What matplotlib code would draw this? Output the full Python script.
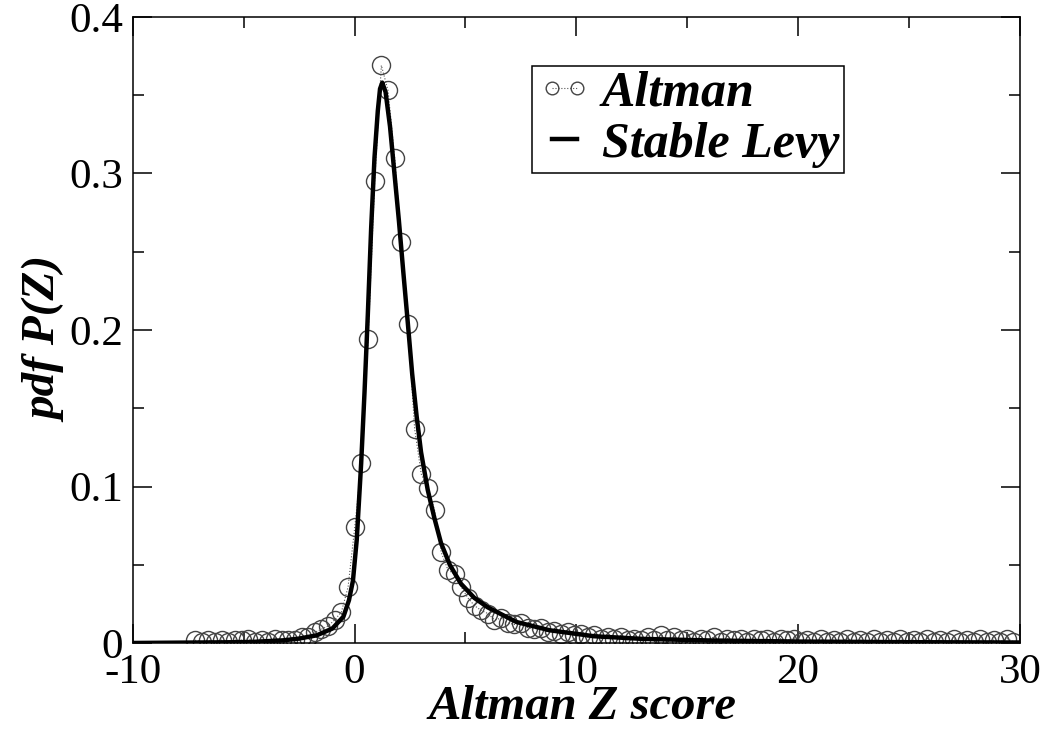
import matplotlib
matplotlib.use("Agg")
import matplotlib.pyplot as plt
import numpy as np

plt.rcParams.update({
    "font.family": "Liberation Serif",
    "axes.linewidth": 1.1,
    "axes.unicode_minus": False,
    "xtick.direction": "in",
    "ytick.direction": "in",
    "xtick.top": True,
    "ytick.right": True,
})

# histogram bins of the Altman Z score (centres, step 0.3)
bin_start = -7.19
bin_step = 0.3
altman_pdf = [
    0.002, 0.001, 0.002, 0.001, 0.002, 0.001, 0.002, 0.002, 0.003, 0.001,
    0.002, 0.001, 0.003, 0.002, 0.002, 0.002, 0.004, 0.004, 0.007, 0.009,
    0.011, 0.015, 0.020, 0.036, 0.074, 0.115, 0.194, 0.295, 0.369, 0.353,
    0.310, 0.256, 0.204, 0.137, 0.108, 0.099, 0.085, 0.058, 0.047, 0.044,
    0.036, 0.029, 0.024, 0.021, 0.019, 0.015, 0.016, 0.013, 0.012, 0.013,
    0.010, 0.009, 0.010, 0.007, 0.008, 0.006, 0.007, 0.005, 0.006, 0.004,
    0.005, 0.003, 0.004, 0.003, 0.004, 0.002, 0.003, 0.002, 0.004, 0.002,
    0.005, 0.002, 0.004, 0.002, 0.003, 0.001, 0.003, 0.002, 0.004, 0.001,
    0.003, 0.002, 0.003, 0.001, 0.003, 0.002, 0.003, 0.001, 0.003, 0.002,
    0.003, 0.001, 0.002, 0.001, 0.003, 0.001, 0.002, 0.001, 0.003, 0.001,
    0.002, 0.001, 0.003, 0.001, 0.002, 0.001, 0.003, 0.001, 0.002, 0.001,
    0.003, 0.001, 0.002, 0.001, 0.003, 0.001, 0.002, 0.001, 0.003, 0.001,
    0.002, 0.001, 0.003, 0.001,
]
altman_z = np.round(bin_start + bin_step * np.arange(len(altman_pdf)), 2)

# fitted stable Levy curve
levy_z = [-10, -8, -6, -4.7, -3.2, -2.5, -1.7, -1.0, -0.5, -0.25, -0.07,
          0.1, 0.3, 0.45, 0.6, 0.75, 0.9, 1.05, 1.15, 1.25, 1.4, 1.6, 1.8,
          2.0, 2.2, 2.4, 2.6, 2.8, 3.0, 3.3, 3.6, 3.9, 4.3, 4.8, 5.4, 6.0,
          7.3, 8.8, 10.8, 13, 16, 20, 25, 30]
levy_pdf = [0.0002, 0.0004, 0.0006, 0.0008, 0.0019, 0.003, 0.0051, 0.0094,
            0.017, 0.0275, 0.040, 0.066, 0.115, 0.16, 0.21, 0.265, 0.31,
            0.34, 0.354, 0.358, 0.352, 0.33, 0.30, 0.27, 0.237, 0.205,
            0.172, 0.145, 0.122, 0.098, 0.080, 0.064, 0.050, 0.038, 0.029,
            0.023, 0.0136, 0.0083, 0.0045, 0.0028, 0.0018, 0.0011, 0.0007,
            0.0005]

fig = plt.figure(figsize=(10.45, 7.31), dpi=100)
ax = fig.add_axes([0.127, 0.120, 0.849, 0.857])

ax.plot(altman_z, altman_pdf, color="#555555", linestyle=":", linewidth=0.8,
        marker="o", markersize=13, markerfacecolor="none",
        markeredgecolor="#444444", markeredgewidth=1.0, label="Altman")
ax.plot(levy_z, levy_pdf, color="black", linewidth=3.2, label="Stable Levy")

ax.set_xlim(-10, 30)
ax.set_ylim(0, 0.4)
ax.set_xticks([-10, 0, 10, 20, 30])
ax.set_xticks([-5, 5, 15, 25], minor=True)
ax.set_yticks([0, 0.1, 0.2, 0.3, 0.4])
ax.set_yticks([0.05, 0.15, 0.25, 0.35], minor=True)
ax.set_yticklabels(["0", "0.1", "0.2", "0.3", "0.4"])
ax.tick_params(which="major", length=14, width=1.1, labelsize=31, pad=7)
ax.tick_params(which="minor", length=8, width=1.1)

lab = dict(fontweight="bold", fontstyle="italic")
ax.set_xlabel("Altman Z score", fontsize=35, **lab)
ax.set_ylabel("pdf P(Z)", fontsize=34, **lab)
ax.xaxis.set_label_coords(0.507, -0.066)
ax.yaxis.set_label_coords(-0.074, 0.484)

leg = ax.legend(loc="upper left", bbox_to_anchor=(0.45, 0.922),
                borderaxespad=0,
                prop={"family": "Liberation Serif", "size": 36,
                      "weight": "bold", "style": "italic"},
                numpoints=2, markerscale=0.7, handlelength=1.1,
                handletextpad=0.2, borderpad=0.1, labelspacing=0.1,
                fancybox=False, framealpha=1, edgecolor="black")
leg.get_frame().set_linewidth(1.1)

fig.savefig("out.png", dpi=100)
